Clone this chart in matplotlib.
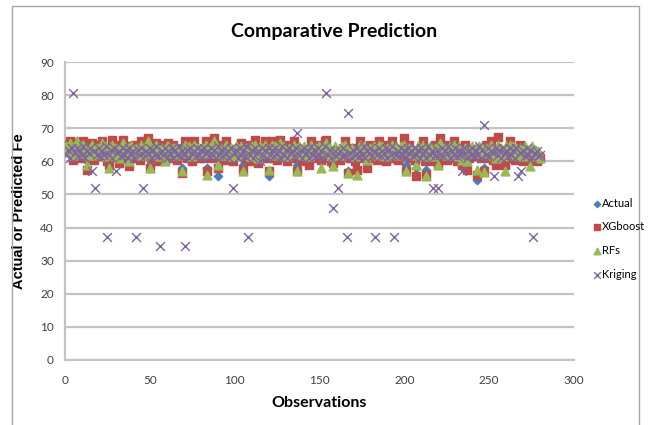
import numpy as np
import matplotlib.pyplot as plt
from matplotlib.patches import Rectangle

# Fe values per observation (1..280)
actual = [
    64, 62.5, 65, 63, 61, 64.5, 66, 63.5, 62, 64, 65.5, 63, 60, 62.5, 64, 65, 61.5, 63, 64.5, 62,
    63.5, 65, 62, 64, 61, 61, 63, 65.5, 62.5, 64, 63, 60.5, 64.5, 66, 63, 62, 64, 62, 65, 63.5,
    62, 64.5, 63, 61.5, 65, 63, 62.5, 64, 66.5, 59, 63.5, 62, 64, 65, 61, 63, 64.5, 62, 61, 64,
    65, 63, 62, 64.5, 63.5, 61.5, 64, 62.5, 58, 63, 65, 62, 64, 63, 61, 65.5, 63, 64, 62, 63.5,
    64, 62, 65, 58, 63.5, 64, 62, 66.5, 63, 55.5, 62, 64.5, 63, 61.5, 65, 63, 62, 64, 61, 63.5,
    64, 62.5, 63, 65, 59, 62, 64.5, 63, 61, 64, 62, 65.5, 63, 60.5, 64, 62, 63.5, 65, 62, 55.5,
    63, 65, 62, 64, 61.5, 63.5, 66, 62.5, 64, 63, 61, 64.5, 62, 63, 65, 62.5, 59, 64, 63, 61.5,
    64, 62, 63.5, 61, 65, 63, 62, 64.5, 62.5, 64, 60, 63, 65, 66, 62, 63.5, 61, 60, 64, 62.5,
    63, 61.5, 64, 62.5, 65, 63, 57, 62, 64, 63.5, 61, 58, 63, 65, 62, 64, 62.5, 60, 63, 64.5,
    62, 64, 63, 61.5, 65, 62.5, 64, 63, 61, 64.5, 62, 63.5, 65, 62, 64, 61.5, 63, 64, 62.5, 65.5,
    59, 63, 64.5, 62, 63, 61.5, 58, 64, 62.5, 63, 65, 61, 57.5, 63.5, 64, 62, 61, 64.5, 63, 60.5,
    65, 63, 62, 64.5, 61.5, 63, 64, 62, 65, 63.5, 61, 64, 62.5, 60, 63, 64.5, 59, 62, 63.5, 64,
    62.5, 63, 54.3, 64, 62, 63.5, 58, 64.5, 62, 63, 65, 61.5, 63, 60.5, 64, 62, 63.5, 61, 58.5, 64,
    63, 65, 62, 64, 61.5, 63.5, 62, 64.5, 63, 61, 64, 62.5, 63, 59.5, 64, 62, 63.5, 61, 62.5, 60.5,
]

xgboost = [
    65, 63, 66, 62.5, 60.5, 65, 65.5, 64, 61, 63.5, 66, 62, 57.5, 61, 64.5, 65.5, 60.5, 62.5, 65, 61.5,
    64, 66, 61.5, 63, 60, 59, 62, 66.5, 61.5, 63.5, 62, 59.5, 65, 66.5, 62, 61, 63, 58.5, 64.5, 62.5,
    61, 65, 62.5, 60.5, 66, 62, 61.5, 63, 67, 58, 63, 61, 64.5, 65.5, 60, 62, 65, 61.5, 60.5, 63,
    65.5, 62.5, 61, 65, 63, 60.5, 63.5, 62, 56.5, 62, 66, 61, 63, 64, 60, 66, 62, 63.5, 61, 62.5,
    63.5, 61, 66, 57, 62.5, 63.5, 61, 67, 62, 58, 61, 65, 62.5, 60.5, 66, 62, 61, 63.5, 60, 62.5,
    63.5, 61.5, 62, 65.5, 57.5, 61, 65, 62, 60, 63, 61.5, 66.5, 62, 59.5, 63, 61, 62.5, 66, 61, 57,
    62, 66, 61, 63.5, 60.5, 62.5, 66.5, 61.5, 63, 62, 60, 65, 61, 62, 66, 61.5, 57, 63, 62, 60,
    63, 61, 62.5, 59, 66, 62, 61, 65, 61.5, 63, 60.5, 62, 66, 66.5, 61, 62.5, 60, 59.5, 63, 61.5,
    62, 60.5, 63, 61.5, 66, 62, 56.5, 61, 63, 64, 60, 57.5, 62, 66, 61, 63, 61.5, 58, 62, 65,
    61, 63, 62, 60.5, 66, 61.5, 63, 62, 60, 65, 61, 62.5, 66, 61, 63, 60.5, 62, 63, 61.5, 67,
    57, 62, 65, 61, 62, 60.5, 55.5, 63, 61.5, 62, 66, 60, 56, 62.5, 63, 61, 60, 65, 62, 59,
    67, 62, 61, 65, 60.5, 62, 63, 61, 66, 62.5, 60, 63, 61.5, 59, 62, 65, 57.5, 61, 62.5, 63,
    61.5, 62, 56, 63, 61, 62.5, 57, 65, 61, 62, 66, 60.5, 62, 59, 67.5, 61, 62.5, 60, 59, 63,
    62, 66, 61, 63, 60.5, 62.5, 61, 65, 62, 60, 63, 61.5, 62, 60.5, 63, 61, 62.5, 60, 61.5, 61,
]

rfs = [
    64.5, 63.5, 65.5, 63, 62, 64, 66, 63, 62.5, 64.5, 65, 63.5, 59, 62, 64, 65, 62, 63.5, 64, 62.5,
    63, 65.5, 62.5, 64.5, 61.5, 58, 63.5, 65, 62, 64, 63.5, 61, 64, 65.5, 63, 62.5, 64, 60, 65, 63,
    62.5, 64, 63.5, 62, 65, 63.5, 62, 64.5, 66, 58, 64, 62.5, 63.5, 65, 61.5, 63.5, 64, 62.5, 60, 64.5,
    64.5, 63.5, 62.5, 64, 64, 62, 63.5, 63, 57, 63.5, 65, 62.5, 64.5, 63.5, 61.5, 65, 63.5, 64, 62.5, 63,
    64, 62.5, 65, 56, 63, 64.5, 62.5, 66, 63.5, 59, 62.5, 64, 63.5, 62, 65, 63.5, 62.5, 64, 61.5, 63,
    64.5, 62, 63.5, 64.5, 57, 62.5, 64, 63.5, 61.5, 64.5, 62.5, 65, 63.5, 61, 64.5, 62.5, 63, 65, 62.5, 57.5,
    63.5, 65, 62.5, 64.5, 62, 63, 65.5, 63, 64.5, 63.5, 61.5, 64, 62.5, 63.5, 65, 63, 57, 64.5, 63.5, 62,
    64.5, 62.5, 63, 61.5, 65, 63.5, 62.5, 64, 63, 64.5, 58, 63.5, 65, 65.5, 62.5, 64, 61.5, 58.5, 64.5, 63,
    63.5, 62, 64.5, 63, 65, 63.5, 56.5, 62.5, 64, 63, 61.5, 56, 63.5, 65, 62.5, 64.5, 63, 60.5, 63.5, 64,
    62.5, 64.5, 63.5, 62, 65, 63, 64.5, 63.5, 61.5, 64, 62.5, 64, 65, 62.5, 64.5, 62, 63.5, 64.5, 63, 65,
    57, 63.5, 64, 62.5, 63.5, 62, 59, 64.5, 63, 63.5, 65, 61.5, 55.5, 64, 64.5, 62.5, 61.5, 64, 63.5, 59,
    65.5, 63.5, 62.5, 64, 62, 63.5, 64.5, 62.5, 65, 64, 61.5, 64.5, 63, 60.5, 63.5, 64, 60, 62.5, 64, 64.5,
    63, 63.5, 57.5, 64.5, 62.5, 64, 56.7, 64, 62.5, 63.5, 65, 62, 63.5, 61, 65, 62.5, 64, 61.5, 57, 64.5,
    63.5, 65, 62.5, 64.5, 62, 64, 62.5, 64, 63.5, 61.5, 64.5, 63, 63.5, 58.5, 64.5, 62.5, 63, 61.5, 63, 61,
]

kriging = [
    62, 63.5, 61, 64, 80.5, 62.5, 64, 61.5, 63, 62, 64.5, 61, 63, 62.5, 64, 57, 63, 52, 62, 64,
    61.5, 63, 62, 64.5, 37, 62, 63.5, 61, 64, 57, 62.5, 63, 61.5, 64, 62, 63.5, 61, 64, 62.5, 63,
    61, 37, 63.5, 62, 64, 52, 61.5, 63, 62.5, 64, 61, 63.5, 62, 64.5, 61.5, 34.5, 63, 62, 64, 61,
    63, 62.5, 64, 61, 63.5, 62, 64.5, 61.5, 63, 62, 34.5, 63.5, 61, 64, 62.5, 63, 61.5, 64, 62, 63.5,
    61, 64, 62.5, 63, 61.5, 64, 62, 63.5, 61, 64.5, 62, 63, 61.5, 64, 62.5, 63, 61, 64, 52, 62.5,
    63.5, 61, 64, 62, 63, 61.5, 64.5, 37, 62, 63.5, 61, 64, 62.5, 63, 60, 64, 62, 63.5, 61, 64,
    62, 63.5, 61.5, 64, 62.5, 63, 61, 64.5, 62, 63.5, 61, 64, 62.5, 63, 61.5, 64, 68.5, 62, 63.5, 61,
    64, 62.5, 63, 61, 64.5, 62, 63.5, 61.5, 64, 62, 63, 61, 64.5, 80.5, 62, 63.5, 61, 46, 63, 61.5,
    52, 63, 61.5, 64, 62, 37, 74.5, 62.5, 61, 63.5, 62, 64, 61.5, 63, 62, 64.5, 61, 63, 62.5, 64,
    61.5, 63, 37, 62, 64, 61.5, 63, 62.5, 64, 61, 63.5, 62, 64.5, 37, 62, 63, 61.5, 64, 62, 63.5,
    61, 64, 62.5, 63, 61.5, 64, 62, 63.5, 61, 64, 62.5, 63, 61, 64.5, 62, 63, 52, 61.5, 63.5, 52,
    62, 64, 61.5, 63, 62.5, 64.5, 61, 63, 62, 64, 61.5, 63.5, 62, 57, 64, 62.5, 61, 63.5, 62, 64,
    61.5, 63, 62, 64.5, 61, 63.5, 71, 62, 64, 61.5, 63, 62.5, 55.5, 64, 62, 63.5, 61, 64, 62.5, 63,
    61.5, 64, 62, 63.5, 61, 64, 55.5, 62.5, 57, 63, 61.5, 64, 62, 63.5, 61, 37, 62.5, 63, 61.5, 62,
]

obs = np.arange(1, len(actual) + 1)

narrow = ['Lato', 'DejaVu Sans']
tick_color = '#404040'
grid_color = '#c3c3c3'

fig = plt.figure(figsize=(6.48, 4.25), dpi=100)
ax = fig.add_axes([0.100, 0.153, 0.786, 0.701])

ax.scatter(obs, actual, marker='D', s=18, color='#4a7ebb', label='Actual', zorder=3)
ax.scatter(obs, xgboost, marker='s', s=36, color='#be4b48', label='XGboost', zorder=3)
ax.scatter(obs, rfs, marker='^', s=40, color='#98b954', label='RFs', zorder=3)
ax.scatter(obs, kriging, marker='x', s=40, color='#8064a2', linewidths=1.0,
           label='Kriging', zorder=4)

ax.set_xlim(0, 300)
ax.set_ylim(0, 90)
ax.set_xticks(np.arange(0, 301, 50))
ax.set_yticks(np.arange(0, 91, 10))
ax.tick_params(length=0, labelsize=8.5, colors=tick_color, pad=8)
ax.tick_params(axis='x', pad=11)
for lab in ax.get_xticklabels() + ax.get_yticklabels():
    lab.set_family(narrow)

ax.grid(axis='y', color=grid_color, linewidth=1.6, zorder=0)
ax.set_axisbelow(True)
for side in ['top', 'right']:
    ax.spines[side].set_visible(False)
for side in ['left', 'bottom']:
    ax.spines[side].set_color(grid_color)
    ax.spines[side].set_linewidth(1.6)

ax.set_xlabel('Observations', fontsize=11.5, fontweight='bold', family=narrow, labelpad=7)
ax.set_ylabel('Actual or Predicted Fe', fontsize=10.5, fontweight='bold',
              family=['Liberation Sans', 'DejaVu Sans'], labelpad=10)

fig.text(0.515, 0.925, 'Comparative Prediction', ha='center', va='center',
         fontsize=14, fontweight='bold', family=narrow)

leg = fig.legend(loc='upper left', bbox_to_anchor=(0.912, 0.535), frameon=False,
                 fontsize=8, handletextpad=0.0, labelspacing=1.15, handlelength=1.0,
                 markerscale=0.75, borderaxespad=0, borderpad=0)
for t in leg.get_texts():
    t.set_family(narrow)

# outer chart frame
fig.patches.append(Rectangle((0.0185, -0.02), 0.968, 1.006, transform=fig.transFigure,
                             fill=False, edgecolor='#a6a6a6', linewidth=1.0))

fig.savefig('out.png', dpi=100)
